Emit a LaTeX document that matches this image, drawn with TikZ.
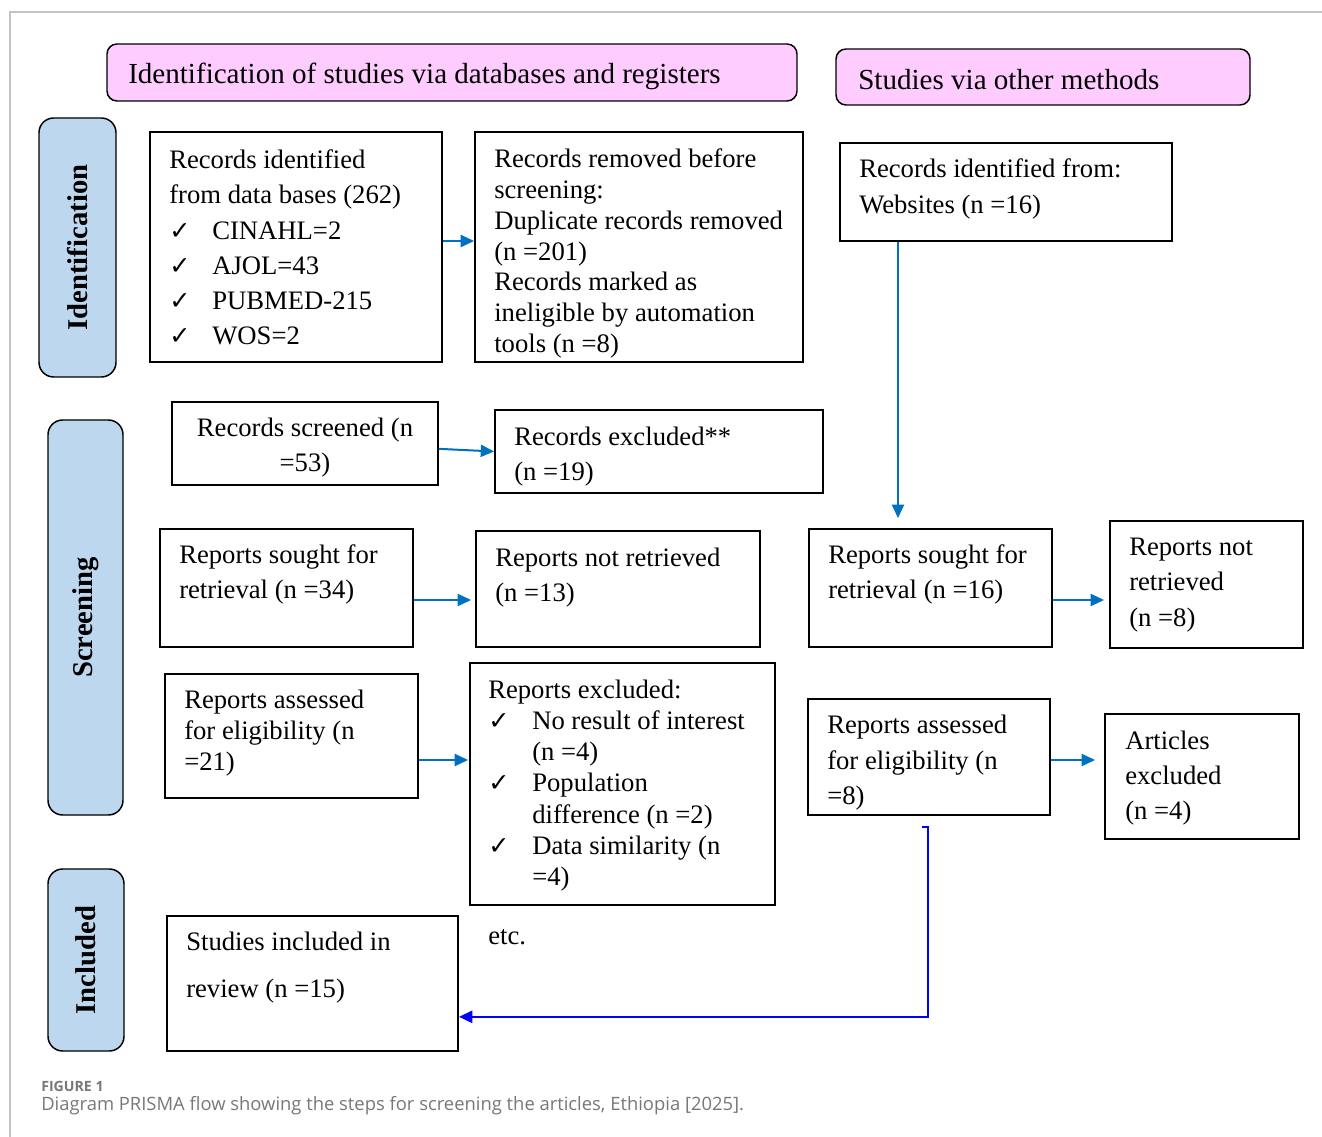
\documentclass[tikz,border=0pt]{standalone}
\usepackage{fontspec}
\setmainfont{Liberation Serif}
\newfontfamily\capfont{Open Sans}
\newfontfamily\symfont{DejaVu Sans}
\usetikzlibrary{arrows.meta}
\definecolor{pinkfill}{RGB}{255,204,255}
\definecolor{sidefill}{RGB}{189,215,238}
\definecolor{arrowblue}{RGB}{0,112,192}
\definecolor{linkblue}{RGB}{0,0,255}
\definecolor{framegray}{RGB}{195,195,195}
\definecolor{capgray}{RGB}{120,120,120}
\newcommand{\ck}{{\symfont\fontsize{19}{19}\selectfont ✓}}
\newcommand{\cka}{\makebox[32.25pt][l]{\ck}}
\newcommand{\ckb}{\makebox[33pt][l]{\ck}}
% box: name, x1, y1, x2, y2, style
\newcommand{\bx}[6]{\node[#6, minimum width={(#4-#2)*0.75pt}, minimum height={(#5-#3)*0.75pt}] (#1) at ({(#2+#4)/2},{(#3+#5)/2}) {};}
% text: name, x, y, baselineskip, text
\newcommand{\tx}[5]{\node[txt, font=\fontsize{20}{#4}\selectfont] (#1) at (#2,#3) {#5};}
\begin{document}
\begin{tikzpicture}[x=0.75pt,y=-0.75pt,
  box/.style={draw=black, line width=1.4pt, inner sep=0pt, fill=white},
  hdr/.style={draw=black, line width=1.1pt, inner sep=0pt, fill=pinkfill, rounded corners=7.5pt},
  side/.style={draw=black, line width=1.1pt, inner sep=0pt, fill=sidefill, rounded corners=11pt},
  txt/.style={anchor=west, align=left, inner sep=0pt},
  hdrtxt/.style={anchor=west, inner sep=0pt, font=\fontsize{21.8}{24}\selectfont},
  sidetxt/.style={rotate=90, inner sep=0pt, font=\fontsize{21.5}{24}\selectfont\bfseries},
  arr/.style={draw=arrowblue, line width=1.5pt, -{Triangle[length=10pt,width=9pt]}},
  arrb/.style={draw=linkblue, line width=1.9pt, -{Triangle[length=10pt,width=9pt]}}]
\useasboundingbox (0,0) rectangle (1322,1137);
\fill[white] (0,0) rectangle (1322,1137);
% frame
\draw[framegray, line width=1.2pt] (10,1137) -- (10,12) -- (1322,12);
% headers
\bx{H1}{107}{44}{797}{101}{hdr}
\bx{H2}{836}{49}{1250}{105}{hdr}
\node[hdrtxt] (H1t) at (128,76) {Identification of studies via databases and registers};
\node[hdrtxt] (H2t) at (858,80) {Studies via other methods};
% side labels
\bx{S1}{39}{118}{116}{377}{side}
\bx{S2}{48}{420}{123}{815}{side}
\bx{S3}{48}{869}{124}{1051}{side}
\node[sidetxt] (S1t) at (S1) {Identification};
\node[sidetxt] (S2t) at (S2) {Screening};
\node[sidetxt] (S3t) at (S3) {Included};
% boxes
\bx{A}{150}{132}{442}{362}{box}
\bx{B}{475}{132}{803}{362}{box}
\bx{C}{840}{143}{1172}{241}{box}
\bx{D}{172}{402}{438}{485}{box}
\bx{E}{495}{410}{823}{493}{box}
\bx{F}{160}{529}{413}{647}{box}
\bx{G}{476}{531}{760}{647}{box}
\bx{H}{809}{529}{1052}{647}{box}
\bx{I}{1110}{521}{1303}{648}{box}
\bx{J}{165}{674}{418}{798}{box}
\bx{K}{470}{663}{775}{905}{box}
\bx{L}{808}{699}{1050}{815}{box}
\bx{M}{1105}{714}{1299}{839}{box}
\bx{N}{167}{916}{458}{1051}{box}
% texts
\tx{At}{169}{247.5}{26.4pt}{Records identified\\from data bases (262)\\\cka CINAHL=2\\\cka AJOL=43\\\cka PUBMED-215\\\cka WOS=2}
\tx{Bt}{494}{253.5}{23.1pt}{Records removed before\\screening:\\Duplicate records removed\\(n =201)\\Records marked as\\ineligible by automation\\tools (n =8)}
\tx{Ct}{859}{189}{27pt}{Records identified from:\\Websites (n =16)}
\node[txt, anchor=center, align=center, font=\fontsize{20}{26.25pt}\selectfont] (Dt) at (305,447.5) {Records screened (n\\=53)};
\tx{Et}{514}{456.5}{26.25pt}{Records excluded**\\(n =19)}
\tx{Ft}{179}{574.5}{26.25pt}{Reports sought for\\retrieval (n =34)}
\tx{Gt}{495}{577.5}{26.25pt}{Reports not retrieved\\(n =13)}
\tx{Ht}{828}{574.5}{26.25pt}{Reports sought for\\retrieval (n =16)}
\tx{It}{1129}{585}{26.6pt}{Reports not\\retrieved\\(n =8)}
\tx{Jt}{184}{733}{23.25pt}{Reports assessed\\for eligibility (n\\=21)}
\tx{Kt}{488}{785.5}{23.4pt}{Reports excluded:\\\ckb No result of interest\\\hspace*{33pt}(n =4)\\\ckb Population\\\hspace*{33pt}difference (n =2)\\\ckb Data similarity (n\\\hspace*{33pt}=4)}
\tx{Lt}{827}{763}{26.6pt}{Reports assessed\\for eligibility (n\\=8)}
\tx{Mt}{1125}{778.5}{26.25pt}{Articles\\excluded\\(n =4)}
\tx{Nt}{186}{967.5}{35.25pt}{Studies included in\\review (n =15)}
\tx{etc}{488}{937}{24pt}{etc.}
% arrows
\draw[arr] ([yshift=4.5pt]A.east) -- ([yshift=4.5pt]A.east -| B.west);
\draw[arr, shorten >=7.5pt] ([xshift=-81pt]C.south) -- ([xshift=-81pt]C.south |- H.north);
\draw[arr] ([yshift=-4pt]D.east) -- (E.west);
\draw[arr, shorten >=3pt] ([yshift=-9pt]F.east) -- ([yshift=-9pt]F.east -| G.west);
\draw[arr, shorten >=3.75pt] ([yshift=-9pt]H.east) -- ([yshift=-9pt]H.east -| I.west);
\draw[arr, shorten >=0.75pt] ([yshift=-18pt]J.east) -- ([yshift=-18pt]J.east -| K.west);
\draw[arr, shorten >=6.75pt] ([yshift=-2.25pt]L.east) -- ([yshift=-2.25pt]L.east -| M.west);
\draw[arrb] ([xshift=-5.25pt,yshift=-8.25pt]L.south) -- ++(4.5pt,0) |- ([yshift=-25pt]N.east);
% caption
\node[anchor=west, inner sep=0pt, text=capgray, font=\capfont\fontsize{10.6}{12}\selectfont\bfseries] (cap1) at (41,1086) {FIGURE 1};
\node[anchor=west, inner sep=0pt, text=capgray, font=\capfont\fontsize{13.8}{15}\selectfont] (cap2) at (41,1106) {Diagram PRISMA flow showing the steps for screening the articles, Ethiopia [2025].};
\end{tikzpicture}
\end{document}
